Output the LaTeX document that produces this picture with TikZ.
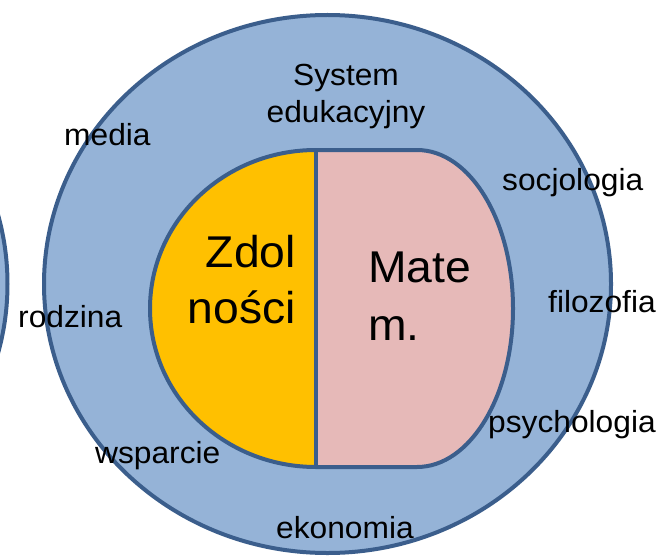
\documentclass[tikz,border=0pt]{standalone}
\usepackage{fontspec}
\setmainfont{Liberation Sans}[FakeStretch=1.04]
\definecolor{ringfill}{HTML}{95B3D7}
\definecolor{edge}{HTML}{3B5E8C}
\definecolor{talent}{HTML}{FFC000}
\definecolor{mathfill}{HTML}{E6B9B8}
\begin{document}
\begin{tikzpicture}[x=1pt,y=-1pt,
  shapeline/.style={draw=edge,line width=4pt},
  small/.style={font=\fontsize{30.5}{37}\selectfont,inner sep=0pt},
  big/.style={font=\fontsize{44.5}{57}\selectfont,inner sep=0pt}
]
\useasboundingbox (0,0) rectangle (660,559);
\fill[white] (0,0) rectangle (660,559);

% neighbouring ring, only its edge shows at the left border
\begin{scope}
  \clip (0,0) rectangle (660,559);
  \draw[shapeline,fill=ringfill] (-276,284) ellipse [x radius=283.5,y radius=269];
\end{scope}

% outer ring
\draw[shapeline,fill=ringfill] (327.5,284) ellipse [x radius=283.5,y radius=269];

% inner halves
\fill[talent] (316,150) arc[start angle=-90,end angle=-270,x radius=166,y radius=158.5] -- cycle;
\fill[mathfill] (316,150) -- (417,150)
  arc[start angle=-90,end angle=90,x radius=96,y radius=158.5] -- (316,467) -- cycle;
\draw[shapeline,line join=round] (316,150) -- (417,150)
  arc[start angle=-90,end angle=90,x radius=96,y radius=158.5] -- (316,467)
  arc[start angle=90,end angle=270,x radius=166,y radius=158.5] -- cycle;
\draw[shapeline] (316,150) -- (316,467);

% labels in the ring
\node[small,anchor=base] (sysA) at (346,86) {System};
\node[small,anchor=base] (sysB) at (346,122) {edukacyjny};
\node[small,anchor=base west] (media) at (64,145) {media};
\node[small,anchor=base west] (socjo) at (502,190) {socjologia};
\node[small,anchor=base west] (rodz) at (18,327) {rodzina};
\node[small,anchor=base west] (filo) at (548,312) {filozofia};
\node[small,anchor=base west] (psych) at (488,432) {psychologia};
\node[small,anchor=base west] (wsp) at (95,463) {wsparcie};
\node[small,anchor=base west] (eko) at (276,538) {ekonomia};

% labels in the core
\node[big,anchor=base east] (zdA) at (296,267) {Zdol};
\node[big,anchor=base east] (zdB) at (296,323) {ności};
\node[big,anchor=base west] (maA) at (368,282) {Mate};
\node[big,anchor=base west] (maB) at (368,340) {m.};
\end{tikzpicture}
\end{document}
